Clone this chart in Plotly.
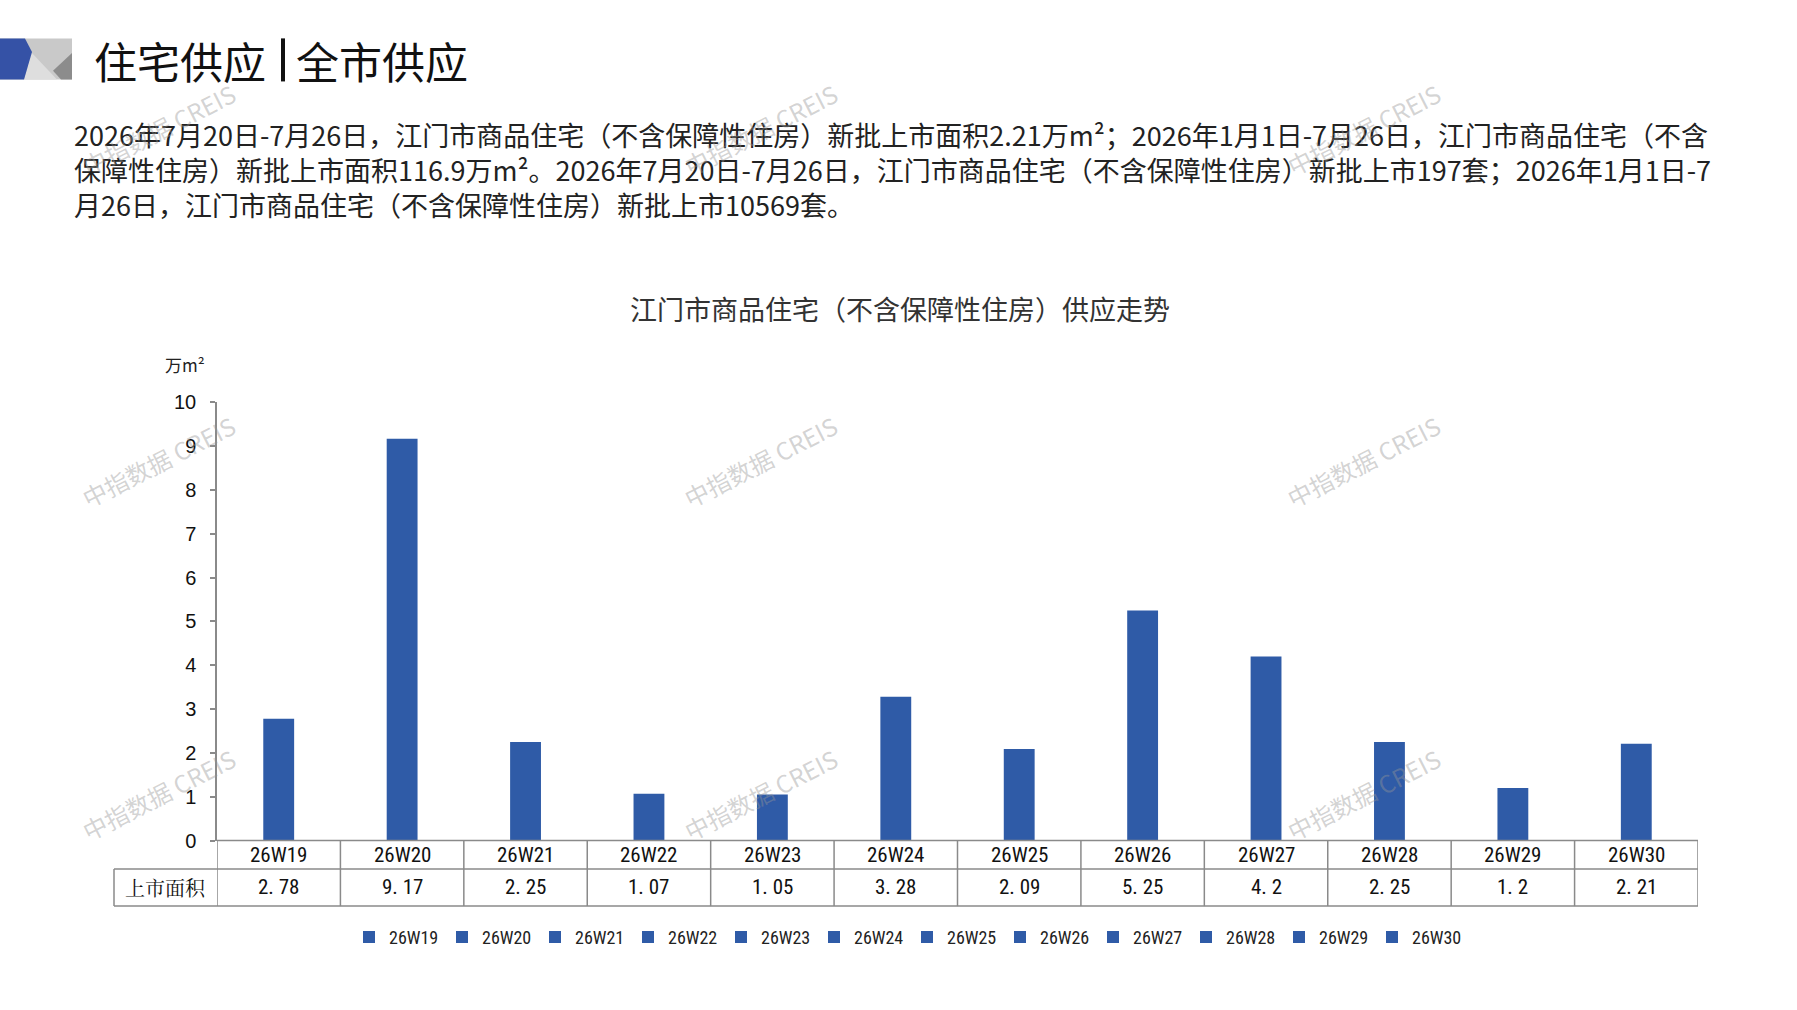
import plotly.graph_objects as go

# page size in px
W = 1797
H = 1010

# weekly data
weeks = ["26W19", "26W20", "26W21", "26W22", "26W23", "26W24",
         "26W25", "26W26", "26W27", "26W28", "26W29", "26W30"]
area = [2.78, 9.17, 2.25, 1.07, 1.05, 3.28, 2.09, 5.25, 4.2, 2.25, 1.2, 2.21]
row_label = "上市面积"
y_ticks = [0, 1, 2, 3, 4, 5, 6, 7, 8, 9, 10]

page_title_a = "住宅供应"
page_title_b = "全市供应"
chart_title = "江门市商品住宅（不含保障性住房）供应走势"
unit_label = "万m²"
paragraph = [
    "2026年7月20日-7月26日，江门市商品住宅（不含保障性住房）新批上市面积2.21万m²；2026年1月1日-7月26日，江门市商品住宅（不含",
    "保障性住房）新批上市面积116.9万m²。2026年7月20日-7月26日，江门市商品住宅（不含保障性住房）新批上市197套；2026年1月1日-7",
    "月26日，江门市商品住宅（不含保障性住房）新批上市10569套。",
]
watermark = "中指数据 CREIS"

BLUE = "#2F5BA7"
GRID = "#8a8a8a"
CJK = "Noto Sans CJK SC"
NARROW = "Roboto Condensed, DejaVu Sans Condensed, sans-serif"

# layout of the plot area and table in page pixels
AX_LEFT, AX_RIGHT = 217, 1698
Y_TOP = 400
TOP, MID, BOT = 848, 877, 915
LEFT = 114


# convert pixel positions of the page into paper coordinates
def px(x):
    return x / W


def py(y):
    return 1 - y / H


fig = go.Figure()

# one bar trace per week so that each week gets a legend entry
for w, v in zip(weeks, area):
    fig.add_trace(go.Bar(x=[w], y=[v], name=w, width=0.25,
                         marker=dict(color=BLUE, line=dict(width=0))))

shapes = []
annotations = []

# logo in the top left corner
shapes.append(dict(type="rect", xref="paper", yref="paper",
                   x0=px(0), x1=px(72), y0=py(70), y1=py(28),
                   fillcolor="#c9c9c9", line=dict(width=0), layer="above"))
shapes.append(dict(type="path", xref="paper", yref="paper",
                   path=f"M{px(24)},{py(70)} L{px(31)},{py(42)} L{px(57)},{py(70)} Z",
                   fillcolor="#dedede", line=dict(width=0), layer="above"))
shapes.append(dict(type="path", xref="paper", yref="paper",
                   path=f"M{px(53)},{py(61)} L{px(72)},{py(43)} L{px(72)},{py(70)} L{px(61)},{py(70)} Z",
                   fillcolor="#8c8c8c", line=dict(width=0), layer="above"))
shapes.append(dict(type="path", xref="paper", yref="paper",
                   path=f"M{px(0)},{py(28)} L{px(25)},{py(28)} L{px(32)},{py(42)} L{px(24)},{py(70)} L{px(0)},{py(70)} Z",
                   fillcolor="#3552a6", line=dict(width=0), layer="above"))

# page title with a thick divider
annotations.append(dict(text=page_title_a, xref="paper", yref="paper",
                        x=px(92), y=py(50), xanchor="left", yanchor="middle",
                        showarrow=False, font=dict(family=CJK, size=43, color="#111111")))
annotations.append(dict(text=page_title_b, xref="paper", yref="paper",
                        x=px(294), y=py(50), xanchor="left", yanchor="middle",
                        showarrow=False, font=dict(family=CJK, size=43, color="#111111")))
shapes.append(dict(type="line", xref="paper", yref="paper",
                   x0=px(283), x1=px(283), y0=py(28), y1=py(72),
                   line=dict(color="#111111", width=4)))

# paragraph text, one block with line breaks
annotations.append(dict(text="<br>".join(paragraph), xref="paper", yref="paper",
                        x=px(72), y=py(162), xanchor="left", yanchor="middle", align="left",
                        showarrow=False, font=dict(family=CJK, size=27, color="#222222")))

# chart title and unit
annotations.append(dict(text=chart_title, xref="paper", yref="paper",
                        x=px(900), y=py(304), xanchor="center", yanchor="middle",
                        showarrow=False, font=dict(family=CJK, size=27, color="#333333")))
annotations.append(dict(text=unit_label, xref="paper", yref="paper",
                        x=px(185), y=py(361), xanchor="center", yanchor="middle",
                        showarrow=False, font=dict(family=CJK, size=17, color="#222222")))

# data table under the bars
line_style = dict(color=GRID, width=1.5)
shapes.append(dict(type="line", xref="x", yref="paper", x0=-0.5, x1=len(weeks) - 0.5,
                   y0=py(TOP), y1=py(TOP), line=line_style))
for yy in (MID, BOT):
    shapes.append(dict(type="line", xref="paper", yref="paper", x0=px(LEFT), x1=px(AX_RIGHT),
                       y0=py(yy), y1=py(yy), line=line_style))
for i in range(len(weeks) + 1):
    shapes.append(dict(type="line", xref="x", yref="paper", x0=i - 0.5, x1=i - 0.5,
                       y0=py(TOP), y1=py(BOT), line=line_style))
shapes.append(dict(type="line", xref="paper", yref="paper", x0=px(LEFT), x1=px(LEFT),
                   y0=py(MID), y1=py(BOT), line=line_style))

for w, v in zip(weeks, area):
    annotations.append(dict(text=w, xref="x", yref="paper", x=w, y=py((TOP + MID) / 2),
                            xanchor="center", yanchor="middle", showarrow=False,
                            font=dict(family=NARROW, size=21, color="#111111")))
    annotations.append(dict(text=str(v).replace(".", ". "), xref="x", yref="paper", x=w,
                            y=py((MID + BOT) / 2), xanchor="center", yanchor="middle",
                            showarrow=False, font=dict(family=NARROW, size=21, color="#111111")))
annotations.append(dict(text=row_label, xref="paper", yref="paper", x=px((LEFT + AX_LEFT) / 2),
                        y=py((MID + BOT) / 2), xanchor="center", yanchor="middle",
                        showarrow=False,
                        font=dict(family="Noto Serif CJK SC, " + CJK, size=20, color="#111111")))

# watermarks
for wy in (121, 461, 801):
    for wx in (158, 760, 1363):
        annotations.append(dict(text=watermark, xref="paper", yref="paper",
                                x=px(wx), y=py(wy), xanchor="center", yanchor="middle",
                                textangle=-27, showarrow=False,
                                font=dict(family=CJK, size=24, color="rgba(150,150,150,0.42)")))

fig.update_layout(
    width=W, height=H,
    margin=dict(l=0, r=0, t=0, b=0),
    paper_bgcolor="white", plot_bgcolor="white",
    barmode="overlay",
    showlegend=True,
    legend=dict(orientation="h", x=px(349), y=py(947), xanchor="left", yanchor="middle",
                entrywidth=48, entrywidthmode="pixels",
                font=dict(family=NARROW, size=18, color="#222222"), itemclick=False),
    shapes=shapes,
    annotations=annotations,
)

fig.update_xaxes(domain=[px(AX_LEFT), px(AX_RIGHT)], range=[-0.5, len(weeks) - 0.5],
                 categoryorder="array", categoryarray=weeks,
                 showticklabels=False, showgrid=False, zeroline=False, showline=False, ticks="")
fig.update_yaxes(domain=[py(TOP), py(Y_TOP)], range=[0, 10], tickvals=y_ticks,
                 showgrid=False, zeroline=False, showline=True, linecolor=GRID, linewidth=1.5,
                 ticks="outside", ticklen=5, tickcolor=GRID, tickwidth=1.5,
                 ticklabelstandoff=10,
                 tickfont=dict(family="Liberation Sans, Arial", size=20, color="#111111"))

fig.write_html("out.html", config={"displayModeBar": False},
               post_script="document.body.style.margin='0';")
